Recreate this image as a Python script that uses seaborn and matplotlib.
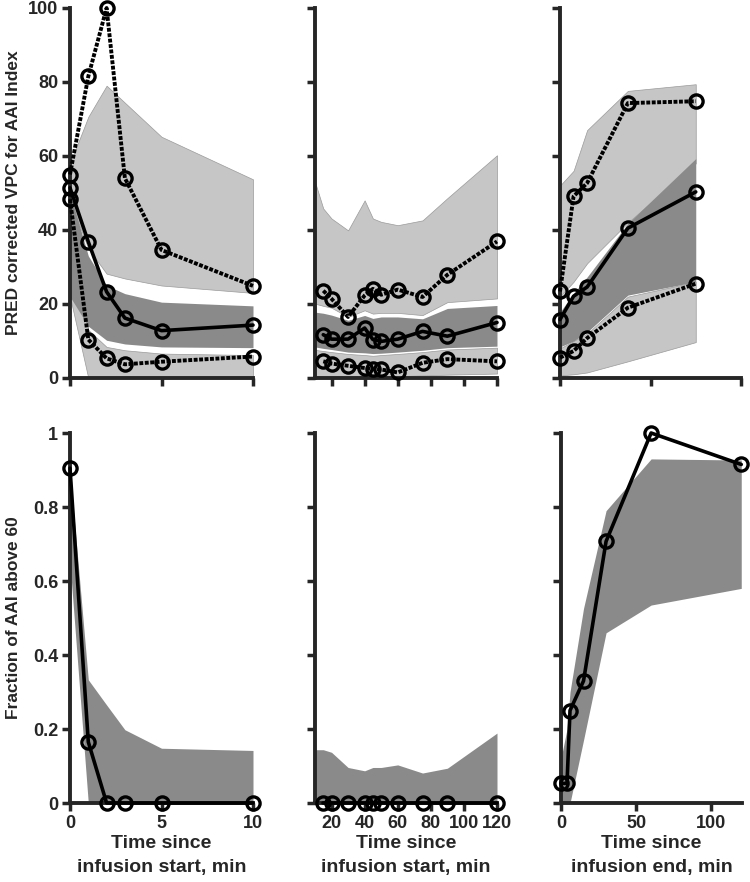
import numpy as np
import matplotlib
matplotlib.use('Agg')
import matplotlib.pyplot as plt
import seaborn as sns

sns.set_style('ticks')
plt.rcParams['font.family'] = ['Liberation Sans', 'DejaVu Sans']
plt.rcParams['font.weight'] = 'bold'

# ---- top row: PRED corrected VPC ----
# left panel: time since infusion start (0-10 min)
t_left = [0, 1, 2, 3, 5, 10]
left_p95 = [55, 81.5, 100, 54, 34.6, 24.9]
left_p50 = [51.4, 36.8, 23.3, 16.2, 12.8, 14.3]
left_p05 = [48.3, 10.4, 5.3, 3.7, 4.4, 5.8]
left_hi_lo = [48, 35, 28.2, 26.9, 25, 23]
left_hi_hi = [58, 70.6, 79, 74.4, 65.2, 53.7]
left_md_lo = [22, 14, 10.2, 9.2, 8.4, 8.2]
left_md_hi = [50, 33, 25, 22.8, 20.5, 19.5]
left_lw_lo = [22, 0, 0, 0, 0, 0.3]
left_lw_hi = [44, 13, 8.4, 7.5, 6.6, 6.2]

# middle panel: time since infusion start (15-120 min)
t_mid = [15, 20, 30, 40, 45, 50, 60, 75, 90, 120]
mid_p95 = [23.6, 21.4, 16.5, 22.3, 24.1, 22.5, 23.9, 21.9, 27.9, 36.9]
mid_p50 = [11.7, 10.5, 10.5, 13.5, 10.4, 9.9, 10.5, 12.6, 11.3, 15.0]
mid_p05 = [4.5, 3.9, 3.3, 2.7, 2.4, 2.3, 1.5, 4.1, 5.1, 4.5]
t_mid_band = [10, 15, 20, 30, 40, 45, 50, 60, 75, 90, 120]
mid_hi_lo = [20.1, 19.5, 19, 16.5, 18.3, 17.4, 17.6, 17.6, 17, 20.5, 21.5]
mid_hi_hi = [53, 45.8, 43.1, 39.9, 48, 43.1, 42.2, 41.3, 42.6, 48.6, 60.2]
mid_md_lo = [8.4, 8, 7.7, 7, 6.8, 6.6, 6.7, 7, 7.5, 8.2, 8.6]
mid_md_hi = [17.8, 17.5, 17, 15.6, 16.9, 16.1, 16.5, 16.5, 16, 18.8, 19.6]
mid_lw_lo = [0.5, 0.5, 0.5, 0.4, 0.4, 0.4, 0.4, 0.5, 0.7, 0.9, 1.2]
mid_lw_hi = [7.6, 7.3, 7, 6.5, 6.2, 6, 6.2, 6.5, 7, 7.7, 8.2]

# right panel: time since infusion end
t_right = [0, 7.5, 15, 37.5, 75]
right_p95 = [23.4, 49.1, 52.7, 74.3, 74.8]
right_p50 = [15.8, 22.1, 24.6, 40.5, 50.3]
right_p05 = [5.5, 7.3, 10.8, 19, 25.5]
right_hi_lo = [22, 26, 31, 42, 58]
right_hi_hi = [52, 56, 67, 77.6, 79.4]
right_md_lo = [8.4, 10, 12.4, 22.4, 26]
right_md_hi = [17.8, 22.9, 27.3, 41.8, 59.3]
right_lw_lo = [0.7, 1, 1.5, 4.5, 9.7]
right_lw_hi = [8, 10, 12, 22, 26]

# ---- bottom row: fraction of AAI above 60 ----
frac_left = [0.905, 0.165, 0, 0, 0, 0]
frac_left_lo = [0.65, 0, 0, 0, 0, 0]
frac_left_hi = [0.9, 0.333, 0.265, 0.198, 0.148, 0.142]

frac_mid = [0, 0, 0, 0, 0, 0, 0, 0, 0, 0]
frac_mid_lo = [0, 0, 0, 0, 0, 0, 0, 0, 0, 0, 0]
frac_mid_hi = [0.144, 0.144, 0.137, 0.096, 0.087, 0.096, 0.096, 0.103, 0.081, 0.094, 0.189]

t_frac_right = [0, 4, 6, 15, 30, 60, 120]
frac_right = [0.053, 0.053, 0.25, 0.33, 0.707, 1.0, 0.915]
frac_right_lo = [0, 0, 0, 0.17, 0.46, 0.535, 0.58]
frac_right_hi = [0.12, 0.2, 0.3, 0.526, 0.79, 0.93, 0.927]

vpc_ticks = [0, 20, 40, 60, 80, 100]
frac_ticks = [0, 0.2, 0.4, 0.6, 0.8, 1]
frac_labels = ['0', '0.2', '0.4', '0.6', '0.8', '1']

LIGHT = '#c6c6c6'
DARK = '#8a8a8a'
DOT = (0, (1.0, 0.4))
TICKFS = 13
LABFS = 14

fig = plt.figure(figsize=(7.5, 8.82), dpi=100)
W, H = 750, 882


def make_ax(x0, x1, ytop, ybot):
    return fig.add_axes([x0 / W, 1 - ybot / H, (x1 - x0) / W, (ybot - ytop) / H])


def style(ax):
    sns.despine(ax=ax)
    for s in ['left', 'bottom']:
        ax.spines[s].set_linewidth(2.8)
    ax.tick_params(width=2.5, length=5.5, pad=3, labelsize=TICKFS, direction='out')


def set_ticks(ax, xt, xl, yt, yl):
    ax.set_xticks(xt)
    ax.set_xticklabels(xl if xl else [], fontweight='bold', fontsize=TICKFS)
    ax.set_yticks(yt)
    ax.set_yticklabels(yl if yl else [], fontweight='bold', fontsize=TICKFS)


def obs_line(ax, x, y, ls='-'):
    sns.lineplot(x=x, y=y, ax=ax, color='black', linewidth=2.6 if ls == '-' else 2.8,
                 linestyle=ls, marker='o', markersize=9.5, markerfacecolor='none',
                 markeredgecolor='black', markeredgewidth=2.4, clip_on=False,
                 errorbar=None, zorder=5)


def vpc_panel(ax, tb, bands, tl, lines):
    (hl, hh), (ml, mh), (ll, lh) = bands
    ax.fill_between(tb, hl, hh, color=LIGHT, edgecolor='#9a9a9a', linewidth=0.5, zorder=1)
    ax.fill_between(tb, ll, lh, color=LIGHT, edgecolor='#9a9a9a', linewidth=0.5, zorder=1)
    ax.fill_between(tb, ml, mh, color=DARK, linewidth=0, zorder=2)
    p95, p50, p05 = lines
    obs_line(ax, tl, p95, DOT)
    obs_line(ax, tl, p05, DOT)
    obs_line(ax, tl, p50, '-')
    ax.set_ylim(0, 100)


def xlab(ax, text):
    ax.set_xlabel(text, fontsize=LABFS, fontweight='bold')
    ax.xaxis.label.set_linespacing(1.5)
    ax.xaxis.set_label_coords(0.5, -0.087)
    ax.xaxis.label.set_va('top')


def ylab(ax, text):
    ax.set_ylabel(text, fontsize=12.5, fontweight='bold')
    ax.yaxis.set_label_coords(-0.31, 0.5)
    ax.yaxis.label.set_va('center')


# top left
ax1 = make_ax(70, 253, 8, 378)
vpc_panel(ax1, t_left, [(left_hi_lo, left_hi_hi), (left_md_lo, left_md_hi), (left_lw_lo, left_lw_hi)],
          t_left, [left_p95, left_p50, left_p05])
ax1.set_xlim(0, 10)
set_ticks(ax1, [0, 5, 10], None, vpc_ticks, [str(v) for v in vpc_ticks])
ylab(ax1, 'PRED corrected VPC for AAI Index')
style(ax1)

# top middle
ax2 = make_ax(315, 497, 8, 378)
vpc_panel(ax2, t_mid_band, [(mid_hi_lo, mid_hi_hi), (mid_md_lo, mid_md_hi), (mid_lw_lo, mid_lw_hi)],
          t_mid, [mid_p95, mid_p50, mid_p05])
ax2.set_xlim(10, 120)
set_ticks(ax2, [20, 40, 60, 80, 100, 120], None, vpc_ticks, None)
style(ax2)

# top right
ax3 = make_ax(560, 741, 8, 378)
vpc_panel(ax3, t_right, [(right_hi_lo, right_hi_hi), (right_md_lo, right_md_hi), (right_lw_lo, right_lw_hi)],
          t_right, [right_p95, right_p50, right_p05])
ax3.set_xlim(0, 100)
set_ticks(ax3, [0, 50, 100], None, vpc_ticks, None)
style(ax3)

# bottom left
ax4 = make_ax(70, 253, 433, 803)
ax4.fill_between(t_left, frac_left_lo, frac_left_hi, color=DARK, linewidth=0, zorder=1)
obs_line(ax4, t_left, frac_left)
ax4.set_xlim(0, 10)
ax4.set_ylim(0, 1)
set_ticks(ax4, [0, 5, 10], ['0', '5', '10'], frac_ticks, frac_labels)
ylab(ax4, 'Fraction of AAI above 60')
xlab(ax4, 'Time since\ninfusion start, min')
style(ax4)

# bottom middle
ax5 = make_ax(315, 497, 433, 803)
ax5.fill_between(t_mid_band, frac_mid_lo, frac_mid_hi, color=DARK, linewidth=0, zorder=1)
obs_line(ax5, t_mid, frac_mid)
ax5.set_xlim(10, 120)
ax5.set_ylim(0, 1)
mid_xt = [20, 40, 60, 80, 100, 120]
set_ticks(ax5, mid_xt, [str(v) for v in mid_xt], frac_ticks, None)
xlab(ax5, 'Time since\ninfusion start, min')
style(ax5)

# bottom right
ax6 = make_ax(561, 742, 433, 803)
ax6.fill_between(t_frac_right, frac_right_lo, frac_right_hi, color=DARK, linewidth=0, zorder=1)
obs_line(ax6, t_frac_right, frac_right)
ax6.set_xlim(0, 120.5)
ax6.set_ylim(0, 1)
set_ticks(ax6, [0, 50, 100], ['0', '50', '100'], frac_ticks, None)
xlab(ax6, 'Time since\ninfusion end, min')
style(ax6)

fig.savefig('out.png', dpi=100)
